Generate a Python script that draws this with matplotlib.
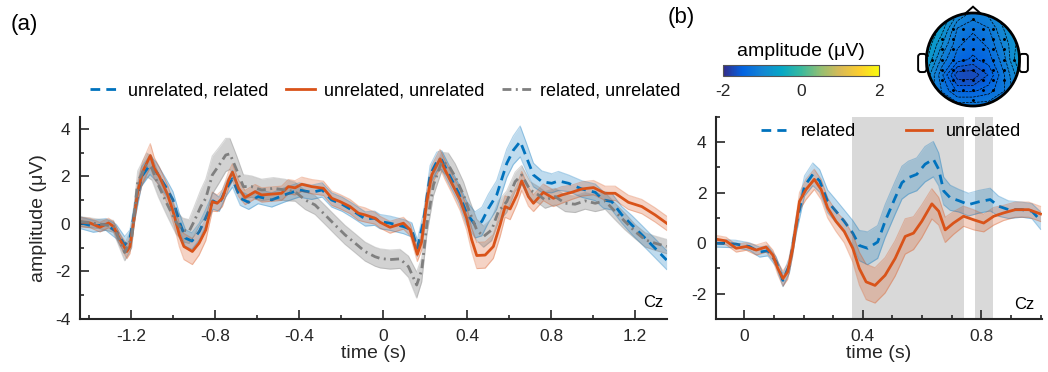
import numpy as np
import matplotlib
matplotlib.use('Agg')
import matplotlib.pyplot as plt
from matplotlib.colors import LinearSegmentedColormap, Normalize
from matplotlib.patches import Circle, Polygon, FancyBboxPatch
from matplotlib.ticker import MultipleLocator
from matplotlib.cm import ScalarMappable

plt.rcParams['font.family'] = ['Liberation Sans', 'DejaVu Sans']

# ---- panel (a): three conditions ----
t_a_rel = [-1.44, -1.38, -1.32, -1.27, -1.23, -1.205, -1.18, -1.15, -1.11, -1.08,
           -1.03, -1.0, -0.97, -0.94, -0.91, -0.875, -0.845, -0.81, -0.78, -0.75,
           -0.717, -0.68, -0.64, -0.595, -0.53, -0.47, -0.40, -0.34, -0.29, -0.245,
           -0.195, -0.15, -0.085, -0.04, -0.015, 0.033, 0.097, 0.137, 0.163, 0.192,
           0.224, 0.256, 0.279, 0.319, 0.36, 0.398, 0.438, 0.47, 0.502, 0.541,
           0.589, 0.62, 0.653, 0.684, 0.716, 0.756, 0.803, 0.835, 0.883, 0.946,
           1.01, 1.049, 1.089, 1.137, 1.184, 1.232, 1.279, 1.35]
v_a_rel = [0.05, -0.1, -0.02, -0.32, -0.88, -0.6, 0.66, 1.99, 2.48, 2.2,
           1.5, 1.01, 0.1, -0.6, -0.72, -0.32, 0.24, 0.97, 0.83, 1.43,
           1.9, 1.08, 0.91, 1.15, 1.01, 1.22, 1.43, 1.33, 1.43, 1.01,
           0.83, 0.59, 0.21, 0.24, 0.1, 0.03, -0.11, -0.25, -1.02, 0.1,
           2.06, 2.62, 2.69, 1.99, 1.29, 0.45, -0.04, 0.1, 0.66, 1.22,
           2.55, 3.1, 3.47, 2.77, 2.06, 1.78, 1.71, 1.81, 1.71, 1.47,
           1.33, 1.01, 0.94, 0.38, -0.04, -0.46, -0.88, -1.52]
e_a_rel = [0.25, 0.25, 0.25, 0.3, 0.35, 0.35, 0.4, 0.4, 0.4, 0.4,
           0.35, 0.35, 0.35, 0.35, 0.35, 0.35, 0.35, 0.35, 0.3, 0.3,
           0.35, 0.3, 0.3, 0.3, 0.3, 0.3, 0.3, 0.3, 0.3, 0.3,
           0.3, 0.3, 0.3, 0.3, 0.3, 0.3, 0.3, 0.3, 0.35, 0.35,
           0.4, 0.4, 0.4, 0.4, 0.4, 0.5, 0.55, 0.6, 0.6, 0.6,
           0.6, 0.6, 0.65, 0.6, 0.5, 0.45, 0.4, 0.4, 0.35, 0.35,
           0.35, 0.35, 0.35, 0.35, 0.4, 0.4, 0.4, 0.4]

t_a_unr = [-1.44, -1.395, -1.348, -1.307, -1.284, -1.252, -1.22, -1.205, -1.19, -1.168,
           -1.144, -1.108, -1.089, -1.065, -1.025, -0.995, -0.97, -0.948, -0.908, -0.876,
           -0.844, -0.813, -0.79, -0.765, -0.735, -0.717, -0.688, -0.657, -0.609, -0.578,
           -0.483, -0.451, -0.419, -0.387, -0.34, -0.284, -0.244, -0.205, -0.157, -0.117,
           -0.086, -0.038, -0.014, 0.033, 0.097, 0.129, 0.163, 0.184, 0.208, 0.232,
           0.271, 0.295, 0.327, 0.367, 0.398, 0.422, 0.446, 0.486, 0.525, 0.557,
           0.581, 0.605, 0.637, 0.66, 0.692, 0.716, 0.763, 0.811, 0.851, 0.898,
           0.946, 1.002, 1.057, 1.105, 1.168, 1.232, 1.295, 1.35]
v_a_unr = [0.08, 0.04, -0.14, 0.04, -0.1, -0.67, -1.16, -0.95, -0.04, 1.36,
           2.2, 2.88, 2.34, 2.0, 1.22, 0.38, -0.46, -0.95, -1.16, -0.81,
           -0.25, 0.94, 0.87, 1.08, 1.85, 2.18, 1.5, 1.11, 1.36, 1.22,
           1.29, 1.57, 1.52, 1.67, 1.57, 1.5, 1.08, 0.94, 0.73, 0.45,
           0.38, 0.24, 0.07, -0.14, 0.03, -0.25, -1.28, -0.74, 0.94, 2.06,
           2.74, 2.27, 1.71, 1.01, 0.24, -0.67, -1.33, -1.31, -0.95, -0.04,
           0.73, 0.63, 1.22, 1.81, 1.15, 0.87, 1.33, 1.08, 1.22, 1.33,
           1.47, 1.53, 1.29, 1.29, 0.91, 0.73, 0.38, 0.03]
e_a_unr = [0.2, 0.2, 0.2, 0.2, 0.2, 0.25, 0.3, 0.3, 0.35, 0.4,
           0.45, 0.5, 0.45, 0.4, 0.4, 0.45, 0.5, 0.55, 0.55, 0.5,
           0.45, 0.4, 0.35, 0.35, 0.35, 0.35, 0.35, 0.3, 0.3, 0.3,
           0.3, 0.3, 0.3, 0.3, 0.3, 0.3, 0.3, 0.3, 0.3, 0.3,
           0.3, 0.25, 0.25, 0.25, 0.25, 0.25, 0.3, 0.35, 0.4, 0.4,
           0.4, 0.4, 0.4, 0.45, 0.5, 0.5, 0.55, 0.55, 0.5, 0.5,
           0.45, 0.45, 0.4, 0.4, 0.4, 0.35, 0.35, 0.35, 0.35, 0.3,
           0.3, 0.3, 0.3, 0.3, 0.3, 0.3, 0.3, 0.3]

t_a_ru = [-1.44, -1.35, -1.284, -1.23, -1.197, -1.168, -1.125, -1.1, -1.07, -1.03,
          -0.987, -0.955, -0.924, -0.9, -0.868, -0.844, -0.813, -0.78, -0.749, -0.729,
          -0.697, -0.665, -0.626, -0.578, -0.522, -0.467, -0.419, -0.371, -0.324, -0.276,
          -0.229, -0.181, -0.133, -0.086, -0.038, -0.014, 0.033, 0.081, 0.121, 0.16,
          0.184, 0.208, 0.24, 0.279, 0.311, 0.343, 0.383, 0.414, 0.446, 0.478,
          0.517, 0.549, 0.589, 0.629, 0.66, 0.7, 0.74, 0.771, 0.819, 0.867,
          0.914, 0.962, 1.01, 1.057, 1.105, 1.152, 1.2, 1.248, 1.295, 1.35]
v_a_ru = [0.1, 0.0, -0.1, -1.2, -0.6, 1.78, 2.48, 2.34, 1.64, 0.87,
          0.1, -0.25, -0.32, 0.1, 0.73, 1.08, 2.06, 2.48, 2.9, 2.95,
          2.27, 1.57, 1.57, 1.43, 1.5, 1.43, 1.36, 1.01, 0.8, 0.38,
          -0.04, -0.46, -0.81, -1.16, -1.38, -1.45, -1.5, -1.47, -1.8, -2.57,
          -1.94, -0.04, 1.64, 2.62, 2.48, 1.99, 1.22, 0.45, -0.25, -0.53,
          -0.25, 0.52, 0.94, 1.78, 2.06, 1.43, 1.22, 1.01, 1.15, 0.87,
          0.83, 0.97, 0.87, 0.97, 0.52, 0.1, -0.32, -0.67, -0.81, -0.95]
e_a_ru = [0.2, 0.2, 0.25, 0.35, 0.4, 0.45, 0.5, 0.5, 0.5, 0.5,
          0.5, 0.5, 0.5, 0.6, 0.7, 0.8, 0.8, 0.75, 0.7, 0.65,
          0.6, 0.5, 0.45, 0.45, 0.45, 0.45, 0.4, 0.4, 0.4, 0.4,
          0.4, 0.4, 0.4, 0.4, 0.4, 0.4, 0.4, 0.4, 0.45, 0.55,
          0.5, 0.45, 0.45, 0.4, 0.5, 0.55, 0.55, 0.5, 0.45, 0.45,
          0.45, 0.45, 0.45, 0.4, 0.4, 0.35, 0.35, 0.35, 0.35, 0.35,
          0.35, 0.35, 0.35, 0.35, 0.35, 0.35, 0.3, 0.3, 0.3, 0.3]

# ---- panel (b): related vs unrelated ----
t_b_rel = [-0.1, -0.03, 0.017, 0.051, 0.079, 0.107, 0.13, 0.152, 0.175, 0.203,
           0.231, 0.254, 0.281, 0.309, 0.337, 0.366, 0.388, 0.416, 0.45, 0.475,
           0.509, 0.532, 0.554, 0.582, 0.61, 0.638, 0.656, 0.673, 0.695, 0.723,
           0.757, 0.791, 0.83, 0.858, 0.892, 0.937, 0.971, 1.0]
v_b_rel = [0.0, -0.03, -0.13, -0.35, -0.3, -0.73, -1.47, -0.87, 0.73, 2.27,
           2.73, 2.47, 1.66, 1.27, 0.87, 0.4, -0.09, -0.2, 0.05, 0.87,
           1.8, 2.4, 2.6, 2.73, 3.13, 3.33, 2.93, 2.07, 1.8, 1.69,
           1.53, 1.64, 1.73, 1.47, 1.33, 1.33, 1.27, 0.9]
e_b_rel = [0.15, 0.15, 0.15, 0.2, 0.2, 0.2, 0.25, 0.3, 0.35, 0.4,
           0.45, 0.45, 0.45, 0.45, 0.45, 0.5, 0.6, 0.65, 0.65, 0.65,
           0.65, 0.65, 0.65, 0.65, 0.7, 0.7, 0.65, 0.55, 0.5, 0.45,
           0.45, 0.45, 0.45, 0.4, 0.35, 0.3, 0.3, 0.35]

t_b_unr = [-0.1, -0.062, -0.028, 0.006, 0.04, 0.073, 0.096, 0.113, 0.13, 0.146,
           0.163, 0.186, 0.208, 0.236, 0.259, 0.281, 0.309, 0.337, 0.366, 0.388,
           0.411, 0.441, 0.475, 0.509, 0.543, 0.571, 0.599, 0.633, 0.656, 0.678,
           0.706, 0.74, 0.774, 0.808, 0.842, 0.875, 0.915, 0.96, 1.0]
v_b_unr = [0.17, 0.09, -0.2, -0.13, -0.27, -0.15, -0.47, -1.0, -1.4, -1.13,
           -0.2, 1.66, 2.13, 2.53, 2.13, 1.4, 0.87, 0.47, -0.2, -1.0,
           -1.53, -1.67, -1.27, -0.6, 0.27, 0.4, 0.87, 1.56, 1.27, 0.53,
           0.8, 1.07, 0.93, 0.8, 1.07, 1.2, 1.33, 1.33, 1.16]
e_b_unr = [0.15, 0.15, 0.15, 0.15, 0.2, 0.2, 0.2, 0.25, 0.3, 0.3,
           0.3, 0.35, 0.4, 0.4, 0.4, 0.4, 0.4, 0.45, 0.55, 0.65,
           0.7, 0.7, 0.7, 0.7, 0.7, 0.65, 0.65, 0.6, 0.55, 0.5,
           0.45, 0.4, 0.4, 0.35, 0.35, 0.3, 0.3, 0.3, 0.3]

sig_windows = [(0.364, 0.741), (0.779, 0.839)]

# topography (values on a coarse 7x7 grid, top row = front of head)
topo = [[-0.4, -0.6, -0.9, -1.1, -1.0, -0.8, -0.6],
        [-0.4, -0.7, -1.2, -1.3, -1.2, -0.9, -0.6],
        [-0.5, -0.9, -1.3, -1.4, -1.3, -1.0, -0.7],
        [-0.6, -1.1, -1.4, -1.5, -1.4, -1.1, -0.6],
        [-0.8, -1.3, -1.85, -1.85, -1.6, -1.2, -0.8],
        [-0.9, -1.2, -1.5, -1.5, -1.4, -1.2, -0.9],
        [-1.0, -1.1, -1.1, -1.1, -1.1, -1.0, -1.0]]

BLUE = '#0072bd'
ORANGE = '#d95319'
GREY = '#7f7f7f'
INK = '#262626'

parula = LinearSegmentedColormap.from_list(
    'parula', ['#352a87', '#0363e1', '#1485d4', '#06a7c6', '#38b99e',
               '#92bf73', '#d9ba56', '#fcce2e', '#f9fb0e'])


def draw_band(ax, t, m, e, color, lw, dashes=None, band_alpha=0.25):
    t = np.asarray(t)
    m = np.asarray(m)
    e = np.asarray(e)
    ax.fill_between(t, m - e, m + e, color=color, alpha=band_alpha, lw=0)
    ax.plot(t, m - e, color=color, alpha=0.3, lw=0.8)
    ax.plot(t, m + e, color=color, alpha=0.3, lw=0.8)
    line, = ax.plot(t, m, color=color, lw=lw, solid_joinstyle='round')
    if dashes is not None:
        line.set_dashes(dashes)
    return line


def style_axes(ax):
    for s in ['top', 'right']:
        ax.spines[s].set_visible(False)
    for s in ['left', 'bottom']:
        ax.spines[s].set_linewidth(1.5)
        ax.spines[s].set_color(INK)
    ax.tick_params(which='both', direction='in', width=1.2, colors=INK,
                   labelsize=12.5)
    ax.tick_params(which='major', length=6.5)
    ax.tick_params(which='minor', length=3)
    ax.tick_params(axis='x', pad=7)
    ax.tick_params(axis='y', pad=7)


fig = plt.figure(figsize=(10.48, 3.72), dpi=100)

# ---------------- (a) ----------------
ax = fig.add_axes([0.0763, 0.1425, 0.5602, 0.543])
l1 = draw_band(ax, t_a_rel, v_a_rel, e_a_rel, BLUE, 2.0, dashes=(3.5, 2.2))
l2 = draw_band(ax, t_a_unr, v_a_unr, e_a_unr, ORANGE, 2.0)
l3 = draw_band(ax, t_a_ru, v_a_ru, e_a_ru, GREY, 2.0,
               dashes=(3.2, 1.6, 0.7, 1.6), band_alpha=0.35)
ax.set_xlim(-1.443, 1.352)
ax.set_ylim(-4, 4.5)
ax.xaxis.set_minor_locator(MultipleLocator(0.2))
ax.yaxis.set_minor_locator(MultipleLocator(1))
ax.set_xticks([-1.2, -0.8, -0.4, 0, 0.4, 0.8, 1.2])
ax.set_xticklabels(['-1.2', '-0.8', '-0.4', '0', '0.4', '0.8', '1.2'])
ax.set_yticks([-4, -2, 0, 2, 4])
ax.set_yticklabels(['-4', '-2', '0', '2', '4'])
style_axes(ax)
ax.set_xlabel('time (s)', fontsize=14, color=INK, labelpad=1)
ax.set_ylabel('amplitude (μV)', fontsize=14, color=INK, labelpad=6)
ax.text(0.993, 0.084, 'Cz', transform=ax.transAxes, ha='right', va='center',
        fontsize=12, color='black')
ax.legend([l1, l2, l3],
          ['unrelated, related', 'unrelated, unrelated', 'related, unrelated'],
          loc='center', bbox_to_anchor=(0.52, 1.13), ncol=3, frameon=False,
          fontsize=13, handlelength=1.6, handletextpad=0.5, columnspacing=1.0)

# ---------------- (b) ----------------
bx = fig.add_axes([0.6832, 0.1425, 0.3111, 0.543])
for lo, hi in sig_windows:
    bx.axvspan(lo, hi, color='#d9d9d9', lw=0, zorder=0)
m1 = draw_band(bx, t_b_rel, v_b_rel, e_b_rel, BLUE, 2.0, dashes=(3.5, 2.2))
m2 = draw_band(bx, t_b_unr, v_b_unr, e_b_unr, ORANGE, 2.0)
bx.set_xlim(-0.096, 1.005)
bx.set_ylim(-3, 5)
bx.xaxis.set_minor_locator(MultipleLocator(0.1))
bx.yaxis.set_minor_locator(MultipleLocator(1))
bx.set_xticks([0, 0.4, 0.8])
bx.set_xticklabels(['0', '0.4', '0.8'])
bx.set_yticks([-2, 0, 2, 4])
bx.set_yticklabels(['-2', '0', '2', '4'])
style_axes(bx)
bx.set_xlabel('time (s)', fontsize=14, color=INK, labelpad=1)
bx.text(0.975, 0.072, 'Cz', transform=bx.transAxes, ha='right', va='center',
        fontsize=12, color='black')
bx.legend([m1, m2], ['related', 'unrelated'], loc='center',
          bbox_to_anchor=(0.537, 0.927), ncol=2, frameon=False, fontsize=13,
          handlelength=1.4, handletextpad=0.8, columnspacing=2.8)

# colorbar
cax = fig.add_axes([0.6896, 0.7957, 0.1494, 0.0288])
sm = ScalarMappable(norm=Normalize(-2, 2), cmap=parula)
cb = fig.colorbar(sm, cax=cax, orientation='horizontal', ticks=[-2, 0, 2])
cb.outline.set_linewidth(0.8)
cb.outline.set_edgecolor('#555555')
cax.tick_params(length=0, labelsize=12.5, pad=6, colors=INK)
cax.set_xticklabels(['-2', '0', '2'])
cax.set_title('amplitude (μV)', fontsize=14, pad=7, color='black')

# head topography
hx = fig.add_axes([917 / 1048, 1 - 115.5 / 372, 112 / 1048, 112 / 372])
hx.set_xlim(-1.204, 1.204)
hx.set_ylim(-1.204, 1.204)
hx.axis('off')
head = Circle((0, 0), 1.0, transform=hx.transData)
grid = np.array(topo)
im = hx.imshow(grid, extent=(-1.1667, 1.1667, -1.1667, 1.1667), cmap=parula,
               vmin=-2, vmax=2, interpolation='bicubic', origin='upper',
               zorder=1)
im.set_clip_path(head)
gx = np.linspace(-1, 1, grid.shape[1])
gy = np.linspace(1, -1, grid.shape[0])
cs = hx.contour(gx, gy, grid, levels=np.arange(-1.75, -0.4, 0.14),
                colors='k', linewidths=0.5, zorder=2)
cs.set_clip_path(head)
# electrode positions
ex, ey = np.meshgrid(np.arange(-0.88, 0.9, 0.22), np.arange(-0.88, 0.9, 0.22))
inside = ex ** 2 + ey ** 2 < 0.9 ** 2
hx.plot(ex[inside], ey[inside], 'k.', ms=2.2, zorder=3)
for sx in (-1, 1):
    ear = FancyBboxPatch((1.0 if sx > 0 else -1.18, -0.27), 0.18, 0.39,
                         boxstyle='round,pad=0,rounding_size=0.06',
                         fc='white', ec='black', lw=1.4, zorder=0.5)
    hx.add_patch(ear)
hx.add_patch(Polygon([(-0.17, 0.985), (0, 1.135), (0.17, 0.985)], closed=False,
                     fill=False, ec='black', lw=1.4, zorder=0.5))
hx.add_patch(Circle((0, 0), 1.0, fill=False, ec='black', lw=2.0, zorder=4))

fig.text(0.01, 0.933, '(a)', fontsize=16, va='center', ha='left')
fig.text(0.637, 0.952, '(b)', fontsize=16, va='center', ha='left')

fig.savefig('out.png', dpi=100)
